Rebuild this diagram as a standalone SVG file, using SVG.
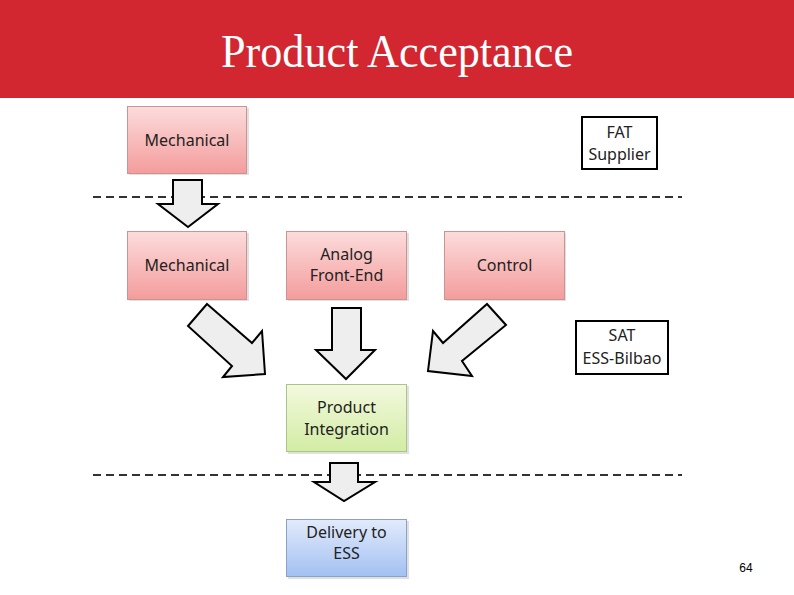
<svg xmlns="http://www.w3.org/2000/svg" width="794" height="595" viewBox="0 0 794 595">
<style>
.lbl{font-family:"Noto Sans","Open Sans","Liberation Sans",sans-serif;font-size:16px;fill:#222;text-anchor:middle}
.arrow{fill:#eeeeee;stroke:#000;stroke-width:2;stroke-linejoin:miter}
.dash{stroke:#333;stroke-width:2;stroke-dasharray:8 5;fill:none}
.tag{fill:#fff;stroke:#000;stroke-width:2}
.pink{fill:url(#gPink);stroke:#c99494;stroke-width:1}
.green{fill:url(#gGreen);stroke:#aac58a;stroke-width:1}
.blue{fill:url(#gBlue);stroke:#87a3cc;stroke-width:1}
.shadow{fill:#000;opacity:0.12}
</style>
<defs>
<linearGradient id="gPink" x1="0" y1="0" x2="0" y2="1">
<stop offset="0" stop-color="#fcdcdc"/><stop offset="1" stop-color="#f49c9c"/>
</linearGradient>
<linearGradient id="gGreen" x1="0" y1="0" x2="0" y2="1">
<stop offset="0" stop-color="#f3f9de"/><stop offset="1" stop-color="#d2eca4"/>
</linearGradient>
<linearGradient id="gBlue" x1="0" y1="0" x2="0" y2="1">
<stop offset="0" stop-color="#e2ebfb"/><stop offset="1" stop-color="#a3c0f2"/>
</linearGradient>
</defs>
<rect width="794" height="595" fill="#fff"/>
<rect id="header" x="0" y="0" width="794" height="98" fill="#d22630"/>
<text x="397" y="67" font-family="Liberation Serif,serif" font-size="47" fill="#fff" text-anchor="middle" textLength="352" lengthAdjust="spacingAndGlyphs">Product Acceptance</text>

<g id="separators">
<line class="dash" x1="93" y1="197" x2="682" y2="197"/>
<line class="dash" x1="93" y1="475" x2="682" y2="475"/>
</g>

<g id="mechanical-1">
<rect class="shadow" x="129" y="108" width="120" height="67"/>
<rect class="pink" x="127.5" y="106.5" width="119" height="67"/>
<text class="lbl" x="187" y="146">Mechanical</text>
</g>
<g id="mechanical-2">
<rect class="shadow" x="129" y="233" width="120" height="68"/>
<rect class="pink" x="127.5" y="231.5" width="119" height="68"/>
<text class="lbl" x="187" y="271">Mechanical</text>
</g>
<g id="analog">
<rect class="shadow" x="288" y="233" width="121" height="68"/>
<rect class="pink" x="286.5" y="231.5" width="120" height="68"/>
<text class="lbl" x="346.5" y="260">Analog</text>
<text class="lbl" x="346.5" y="281">Front-End</text>
</g>
<g id="control">
<rect class="shadow" x="446" y="233" width="120" height="68"/>
<rect class="pink" x="444.5" y="231.5" width="120" height="68"/>
<text class="lbl" x="504.5" y="271">Control</text>
</g>
<g id="product-integration">
<rect class="shadow" x="288" y="386" width="121" height="68"/>
<rect class="green" x="286.5" y="384.5" width="120" height="67"/>
<text class="lbl" x="346.5" y="413">Product</text>
<text class="lbl" x="346.5" y="435">Integration</text>
</g>
<g id="delivery">
<rect class="shadow" x="288" y="521" width="121" height="58"/>
<rect class="blue" x="286.5" y="519.5" width="120" height="57"/>
<text class="lbl" x="346.5" y="538">Delivery to</text>
<text class="lbl" x="346.5" y="559">ESS</text>
</g>
<g id="fat-supplier">
<rect class="tag" x="582" y="117" width="75" height="52"/>
<text class="lbl" x="619.5" y="138">FAT</text>
<text class="lbl" x="619.5" y="160">Supplier</text>
</g>
<g id="sat-ess-bilbao">
<rect class="tag" x="576" y="321" width="92" height="53"/>
<text class="lbl" x="622" y="341">SAT</text>
<text class="lbl" x="622" y="364">ESS-Bilbao</text>
</g>

<g id="connectors">
<polygon class="arrow" points="173,180 202,180 202,204 218,204 188,227 158,204 173,204"/>
<polygon class="arrow" points="207,304 252,343 262,331 265,374 223,377 232,366 188,326"/>
<polygon class="arrow" points="332,308 361,308 361,350 375,350 346,379 316,350 332,350"/>
<polygon class="arrow" points="487,304 506,325 462,361 472,376 428,371 433,331 443,343"/>
<polygon class="arrow" points="330,463 358,463 358,482 375,482 344,501 314,482 330,482"/>
</g>

<text x="746" y="572" font-family="Liberation Sans,sans-serif" font-size="12" fill="#000" text-anchor="middle">64</text>
</svg>
